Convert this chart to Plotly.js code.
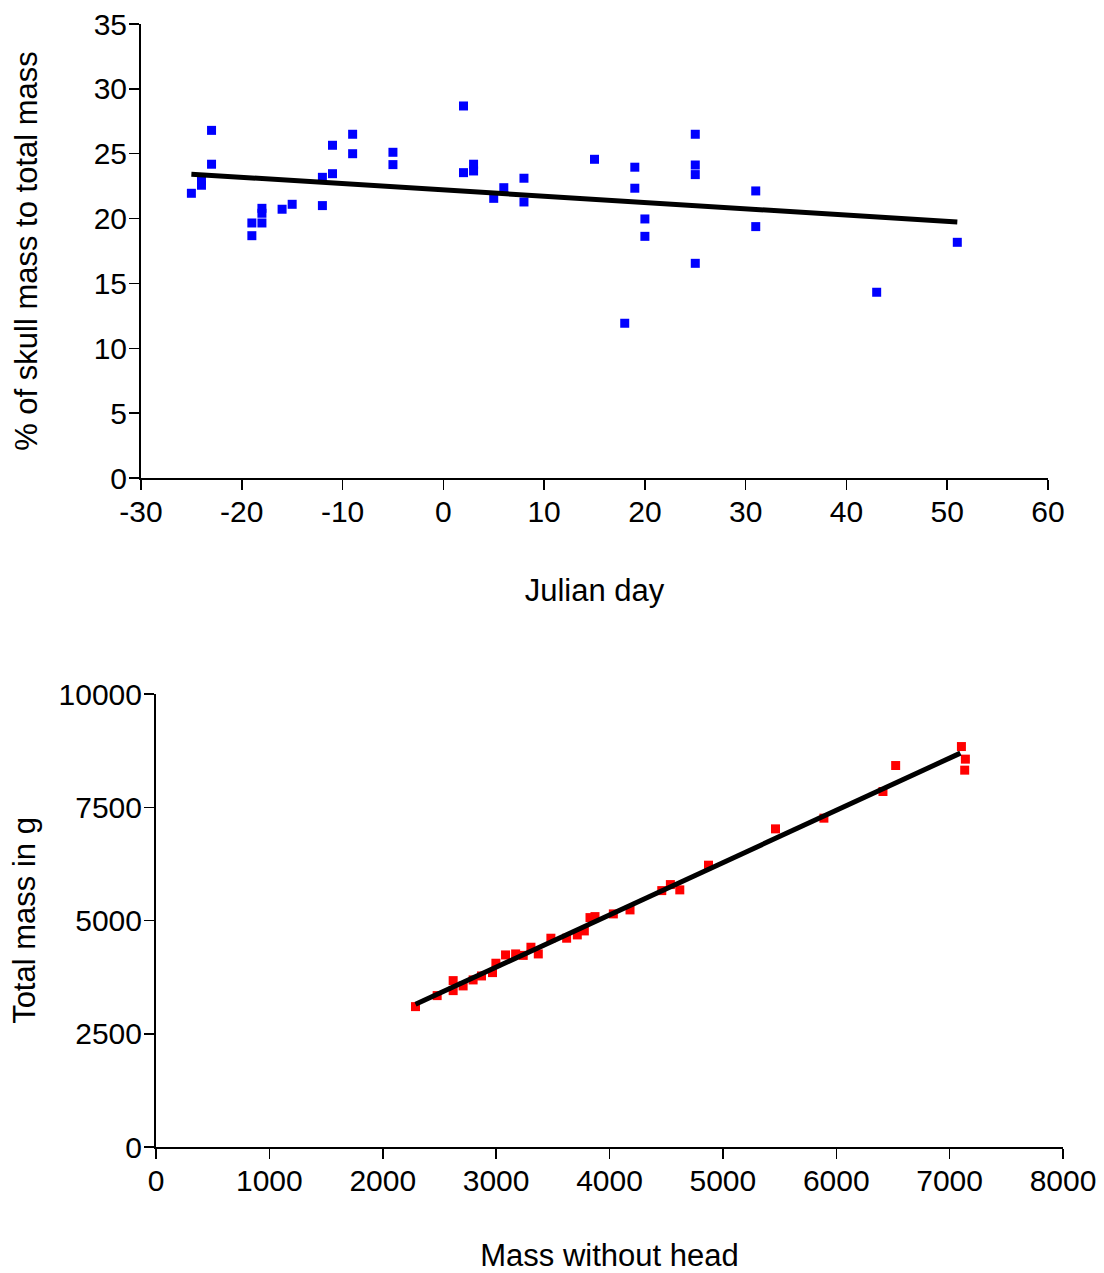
<!DOCTYPE html>
<html>
<head>
<meta charset="utf-8">
<script src="https://cdn.plot.ly/plotly-3.0.1.min.js"></script>
<style>html,body{margin:0;padding:0;background:#fff;}#chart{width:1104px;height:1273px;}</style>
</head>
<body>
<div id="chart"></div>
<script>
// Top panel: % of skull mass vs Julian day
const julianDay = [-25,-24,-24,-23,-23,-19,-19,-18,-18,-18,-16,-15,-12,-12,-11,-11,-9,-9,-5,-5,2,2,3,3,5,6,8,8,15,18,19,19,20,20,25,25,25,25,31,31,43,51];
const skullPct  = [21.95,22.9,22.57,26.8,24.19,19.66,18.68,20.79,20.41,19.66,20.72,21.1,23.18,21.0,25.65,23.46,26.5,25.0,25.11,24.16,28.68,23.54,24.19,23.67,21.56,22.38,23.11,21.28,24.57,11.93,23.96,22.34,19.97,18.63,26.5,24.13,23.39,16.55,22.13,19.38,14.32,18.17];
const fitDayX = [-25, 51];
const fitPctY = [23.42, 19.74];
const dayTickVals = [-30,-20,-10,0,10,20,30,40,50,60];
const dayTickText = ['-30','-20','-10','0','10','20','30','40','50','60'];

// Bottom panel: total mass vs mass without head
const massNoHead = [2289,2480,2621,2621,2709,2797,2871,2968,2998,3083,3172,3239,3307,3372,3483,3622,3716,3778,3828,3872,4034,4181,4461,4537,4620,4873,5464,5891,6412,6524,7104,7139,7133];
const totalMass  = [3099,3342,3673,3452,3556,3688,3776,3850,4057,4240,4262,4230,4410,4262,4609,4609,4682,4770,5064,5086,5146,5234,5660,5793,5676,6221,7023,7259,7847,8421,8840,8562,8319];
const fitMassX = [2289, 7095];
const fitMassY = [3151, 8695];
const massTickVals = [0,2500,5000,7500,10000];
const massTickText = ['0','2500','5000','7500','10000'];

const FONT = 'Arial, "Liberation Sans", sans-serif';
const tickFont = {family: FONT, size: 30, color: '#000'};
const titleFont = {family: FONT, size: 31, color: '#000'};

const traces = [
  {x: julianDay, y: skullPct, type: 'scatter', mode: 'markers', xaxis: 'x', yaxis: 'y',
   marker: {symbol: 'square', size: 9, color: '#0000FF'}, cliponaxis: false},
  {x: fitDayX, y: fitPctY, type: 'scatter', mode: 'lines', xaxis: 'x', yaxis: 'y',
   line: {color: '#000', width: 5}},
  {x: massNoHead, y: totalMass, type: 'scatter', mode: 'markers', xaxis: 'x2', yaxis: 'y2',
   marker: {symbol: 'square', size: 9, color: '#FF0000'}, cliponaxis: false},
  {x: fitMassX, y: fitMassY, type: 'scatter', mode: 'lines', xaxis: 'x2', yaxis: 'y2',
   line: {color: '#000', width: 5}}
];

const axisCommon = {
  showline: true, linecolor: '#000', linewidth: 2,
  ticks: 'outside', ticklen: 10, tickwidth: 1.5, tickcolor: '#000',
  showgrid: false, zeroline: false, tickfont: tickFont, automargin: false,
  ticklabelstandoff: -4
};

const layout = {
  width: 1104, height: 1273,
  margin: {l: 0, r: 0, t: 0, b: 0},
  paper_bgcolor: '#fff', plot_bgcolor: '#fff',
  showlegend: false,
  xaxis: Object.assign({}, axisCommon, {
    domain: [141/1104, 1048/1104], anchor: 'y', range: [-30, 60],
    tickmode: 'array', tickvals: dayTickVals, ticktext: dayTickText,
    title: {text: 'Julian day', font: titleFont, standoff: 52}
  }),
  yaxis: Object.assign({}, axisCommon, {
    domain: [(1273-478)/1273, (1273-24)/1273], anchor: 'x', range: [0, 35], dtick: 5, tick0: 0,
    title: {text: '% of skull mass to total mass', font: titleFont, standoff: 47}
  }),
  xaxis2: Object.assign({}, axisCommon, {
    domain: [156/1104, 1063/1104], anchor: 'y2', range: [0, 8000], dtick: 1000, tick0: 0,
    title: {text: 'Mass without head', font: titleFont, standoff: 51}
  }),
  yaxis2: Object.assign({}, axisCommon, {
    domain: [(1273-1147)/1273, (1273-694)/1273], anchor: 'x2', range: [0, 10000],
    tickmode: 'array', tickvals: massTickVals, ticktext: massTickText,
    title: {text: 'Total mass in g', font: titleFont, standoff: 14}
  })
};

Plotly.newPlot('chart', traces, layout, {staticPlot: true, displayModeBar: false});
</script>
</body>
</html>
